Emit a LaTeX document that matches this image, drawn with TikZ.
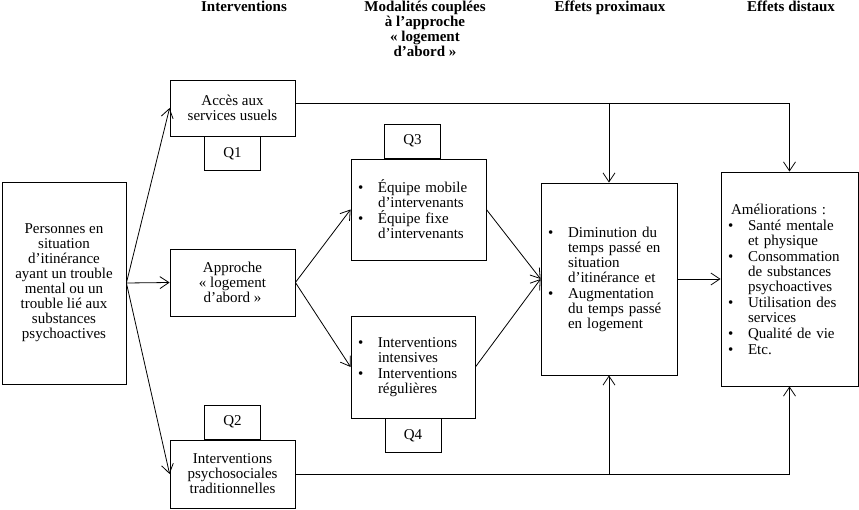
\documentclass[tikz,border=0pt]{standalone}
\usepackage{fontspec}
\setmainfont{Liberation Serif}
\usetikzlibrary{arrows.meta, positioning}

\newcommand{\puce}{\makebox[20pt][l]{\textbullet}}
\newcommand{\retrait}{\hspace*{20pt}}

\begin{document}
\begin{tikzpicture}[
  x=1pt, y=-1pt,
  font=\fontsize{15}{15}\selectfont,
  boite/.style={
    draw, line width=0.8pt,
    align=center, inner sep=2pt
  },
  liste/.style={
    boite, align=left, inner xsep=7pt
  },
  question/.style={
    draw, line width=0.8pt,
    minimum width=56pt, minimum height=34pt, inner sep=0pt
  },
  titre/.style={
    font=\fontsize{15}{15}\selectfont\bfseries,
    align=center, anchor=north, inner sep=0pt
  },
  fleche/.style={
    arrows={-Straight Barb[length=9pt, width=12pt]},
    line width=0.8pt
  }
]
\useasboundingbox (0,0) rectangle (859,510);

% ----- Titres -----
\node[titre] (tinterv) at (244, 1) {Interventions};
\node[titre] (tmodal) at (425, 1)
  {Modalités couplées\\à l’approche\\« logement\\d’abord »};
\node[titre] (tprox) at (610, 1) {Effets proximaux};
\node[titre] (tdist) at (791, 1) {Effets distaux};

% ----- Population -----
\node[boite, minimum width=124pt, minimum height=202pt] (pers) at (64, 283)
  {Personnes en\\situation\\d’itinérance\\ayant un trouble\\mental ou un\\trouble lié aux\\substances\\psychoactives};

% ----- Interventions -----
\node[boite, minimum width=125pt, minimum height=56pt] (acces) at (232.5, 108)
  {Accès aux\\services usuels};
\node[boite, minimum width=125pt, minimum height=67pt] (approche) at (232.5, 282.5)
  {Approche\\« logement\\d’abord »};
\node[boite, minimum width=125pt, minimum height=68pt] (psycho) at (232.5, 474)
  {Interventions\\psychosociales\\traditionnelles};

\node[question, below=0pt of acces] (q1) {Q1};
\node[question, above=0pt of psycho] (q2) {Q2};

% ----- Modalités -----
\node[liste, text width=121pt, minimum height=101pt] (equipe) at (418.5, 209.5)
  {\puce Équipe mobile\\\retrait d’intervenants\\[1pt]
   \puce Équipe fixe\\\retrait d’intervenants};
\node[liste, text width=110pt, minimum height=102pt] (intens) at (413, 367)
  {\puce Interventions\\\retrait intensives\\[1pt]
   \puce Interventions\\\retrait régulières};

\node[question, above=0pt of equipe, xshift=-6pt] (q3) {Q3};
\node[question, below=0pt of intens] (q4) {Q4};

% ----- Effets -----
\node[liste, text width=122pt, minimum height=192pt] (dimin) at (609, 279)
  {\puce Diminution du\\\retrait temps passé en\\\retrait situation\\\retrait d’itinérance et\\[1pt]
   \puce Augmentation\\\retrait du temps passé\\\retrait en logement};
\node[liste, text width=123pt, minimum height=214pt] (amel) at (789.5, 279)
  {\hspace*{3pt}Améliorations~:\\[1pt]
   \puce Santé mentale\\\retrait et physique\\[1pt]
   \puce Consommation\\\retrait de substances\\\retrait psychoactives\\[1pt]
   \puce Utilisation des\\\retrait services\\[1pt]
   \puce Qualité de vie\\[1pt]
   \puce Etc.};

% ----- Flèches -----
\draw[fleche] (pers.east) -- (acces.west);
\draw[fleche] (pers.east) -- (approche.west);
\draw[fleche] (pers.east) -- (psycho.west);
\draw[fleche] (approche.east) -- (equipe.west);
\draw[fleche] (approche.east) -- (intens.west);
\draw[fleche] (equipe.east) -- (dimin.west);
\draw[fleche] (intens.east) -- (dimin.west);
\draw[fleche] (dimin.east) -- (amel.west);

\coordinate (haut) at ([yshift=5pt]acces.east);
\draw[fleche] (haut) -| (amel.north);
\draw[fleche] (haut -| dimin.north) -- (dimin.north);
\draw[fleche] (psycho.east) -| (amel.south);
\draw[fleche] (psycho.east -| dimin.south) -- (dimin.south);

\end{tikzpicture}
\end{document}
